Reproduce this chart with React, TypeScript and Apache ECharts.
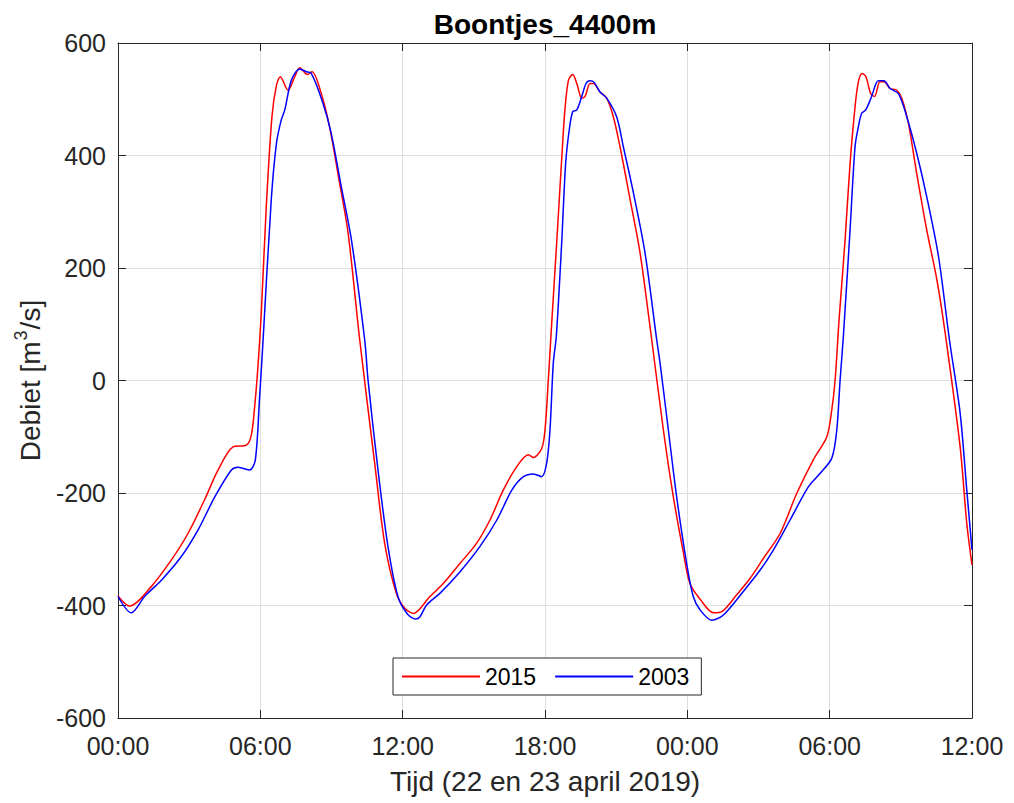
import React, { useEffect, useRef } from "react";
import * as echarts from "echarts";

// Time in hours since 22 April 2019 00:00
const t2015 = [0, 0.49, 1.41, 2.25, 2.95, 3.65, 4.22, 4.85, 5.41, 5.62, 5.76, 5.9, 6.04, 6.25, 6.49, 6.68, 6.84, 7.17, 7.45, 7.66, 7.98, 8.18, 8.57, 8.92, 9.27, 9.7, 10.19, 10.82, 11.24, 11.73, 12.09, 12.45, 13.15, 13.71, 14.42, 15.12, 15.68, 16.24, 16.81, 17.3, 17.51, 17.86, 18.0, 18.14, 18.28, 18.5, 18.71, 18.84, 18.99, 19.17, 19.34, 19.55, 19.69, 19.9, 20.04, 20.32, 20.6, 20.88, 21.16, 21.59, 22.01, 22.5, 22.99, 23.41, 23.83, 24.11, 24.54, 25.1, 25.45, 26.08, 26.64, 27.21, 27.91, 28.61, 29.31, 29.88, 30.09, 30.23, 30.4, 30.65, 30.86, 31.07, 31.21, 31.37, 31.53, 31.73, 31.89, 32.12, 32.29, 32.55, 32.83, 33.04, 33.32, 33.67, 34.09, 34.52, 34.87, 35.5, 35.78, 36];
const q2015 = [-383, -401, -366, -319, -272, -212, -159, -118, -115, -97, -47, 25, 120, 309, 469, 525, 540, 516, 540, 556, 544, 549, 510, 451, 368, 262, 72, -147, -289, -378, -405, -414, -384, -361, -325, -289, -248, -195, -153, -132, -137, -121, -88, 1, 100, 250, 398, 481, 534, 544, 528, 502, 505, 528, 528, 513, 502, 469, 416, 321, 226, 72, -88, -207, -305, -361, -389, -413, -411, -381, -352, -316, -272, -201, -141, -100, -52, 1, 110, 250, 386, 487, 531, 546, 540, 510, 505, 531, 531, 519, 516, 502, 457, 368, 268, 179, 84, -118, -254, -328];

const t2003 = [0, 0.56, 1.12, 1.83, 2.67, 3.37, 4.08, 4.78, 5.06, 5.55, 5.79, 5.97, 6.1, 6.46, 6.68, 6.88, 7.03, 7.31, 7.66, 7.94, 8.15, 8.64, 8.99, 9.41, 9.84, 10.4, 10.54, 10.96, 11.38, 11.8, 12.2, 12.55, 12.73, 13.01, 13.58, 14.42, 15.26, 15.97, 16.6, 17.09, 17.51, 17.86, 18.07, 18.21, 18.35, 18.48, 18.71, 18.87, 19.03, 19.17, 19.34, 19.55, 19.73, 19.9, 20.07, 20.32, 20.6, 21.02, 21.3, 21.73, 22.22, 22.71, 22.85, 23.2, 23.55, 23.97, 24.25, 24.54, 25.03, 25.52, 26.36, 27.07, 27.63, 28.33, 29.1, 29.6, 30.09, 30.3, 30.44, 30.58, 30.86, 31.07, 31.21, 31.35, 31.52, 31.77, 32.05, 32.29, 32.55, 32.9, 33.25, 33.67, 34.09, 34.59, 35.05, 35.5, 35.78, 36];
const q2003 = [-384, -413, -384, -355, -313, -266, -207, -159, -154, -159, -141, -29, 60, 321, 422, 463, 481, 534, 554, 549, 546, 493, 439, 345, 250, 72, 1, -159, -295, -384, -415, -424, -420, -399, -378, -340, -295, -248, -195, -171, -166, -171, -147, -88, 31, 80, 250, 386, 448, 478, 481, 505, 528, 533, 530, 513, 502, 469, 416, 333, 226, 72, 31, -88, -207, -325, -384, -408, -426, -417, -375, -337, -301, -248, -189, -165, -138, -88, 1, 80, 268, 416, 451, 475, 481, 505, 533, 533, 519, 510, 469, 404, 327, 220, 72, -58, -195, -301];

const xTickLabels = ["00:00", "06:00", "12:00", "18:00", "00:00", "06:00", "12:00"];
const seriesNames = ["2015", "2003"];

const FONT = "'Liberation Sans', Arial, Helvetica, sans-serif";
const AX = "#262626";
const GRID = "#dfdfdf";

export default function App() {
  const ref = useRef<HTMLDivElement>(null);
  useEffect(() => {
    if (!ref.current) return;
    const chart = echarts.init(ref.current, undefined, { renderer: "svg" });
    const axisBase = {
      axisLine: { show: true, onZero: false, lineStyle: { color: AX, width: 1 } },
      axisTick: { show: true, inside: true, length: 8, lineStyle: { color: AX } },
    };
    chart.setOption({
      animation: false,
      backgroundColor: "#ffffff",
      textStyle: { fontFamily: FONT },
      title: {
        text: "Boontjes_4400m",
        left: 545,
        top: 10,
        padding: 0,
        textAlign: "center",
        textStyle: { fontFamily: FONT, fontSize: 28, fontWeight: "bold", color: "#000" },
      },
      grid: { left: 118, right: 42, top: 43, bottom: 85, containLabel: false },
      legend: {
        left: 393,
        top: 658,
        orient: "horizontal",
        data: seriesNames,
        itemWidth: 78,
        itemHeight: 14,
        itemGap: 18,
        padding: [7, 12, 7, 8],
        borderColor: AX,
        borderWidth: 1,
        backgroundColor: "#ffffff",
        itemStyle: { opacity: 0 },
        textStyle: { fontFamily: FONT, fontSize: 23, color: "#000" },
      },
      xAxis: [
        {
          type: "value",
          min: 0,
          max: 36,
          interval: 6,
          position: "bottom",
          ...axisBase,
          splitLine: { show: true, lineStyle: { color: GRID, width: 1 } },
          axisLabel: {
            margin: 15,
            fontSize: 25,
            color: AX,
            fontFamily: FONT,
            formatter: (v: number) => xTickLabels[Math.round(v / 6)] ?? "",
          },
          name: "Tijd (22 en 23 april 2019)",
          nameLocation: "middle",
          nameGap: 49,
          nameTextStyle: { fontSize: 28, color: AX, fontFamily: FONT },
        },
        {
          type: "value",
          min: 0,
          max: 36,
          interval: 6,
          position: "top",
          ...axisBase,
          splitLine: { show: false },
          axisLabel: { show: false },
        },
      ],
      yAxis: [
        {
          type: "value",
          min: -600,
          max: 600,
          interval: 200,
          position: "left",
          ...axisBase,
          splitLine: { show: true, lineStyle: { color: GRID, width: 1 } },
          axisLabel: { margin: 12, fontSize: 25, color: AX, fontFamily: FONT },
          name: "{a|Debiet [m}{sup|3}{a|/s]}",
          nameLocation: "middle",
          nameGap: 70,
          nameTextStyle: {
            color: AX,
            fontFamily: FONT,
            rich: {
              a: { fontSize: 28, color: AX, fontFamily: FONT },
              sup: { fontSize: 18, color: AX, fontFamily: FONT, padding: [0, 1, 18, 1] },
            },
          },
        },
        {
          type: "value",
          min: -600,
          max: 600,
          interval: 200,
          position: "right",
          ...axisBase,
          splitLine: { show: false },
          axisLabel: { show: false },
        },
      ],
      series: [
        {
          name: seriesNames[0],
          type: "line",
          xAxisIndex: 0,
          yAxisIndex: 0,
          data: t2015.map((t, i) => [t, q2015[i]]),
          showSymbol: false,
          symbol: "none",
          smooth: 0.3,
          lineStyle: { color: "#ff0000", width: 1.5 },
          itemStyle: { color: "#ff0000" },
          z: 3,
        },
        {
          name: seriesNames[1],
          type: "line",
          xAxisIndex: 0,
          yAxisIndex: 0,
          data: t2003.map((t, i) => [t, q2003[i]]),
          showSymbol: false,
          symbol: "none",
          smooth: 0.3,
          lineStyle: { color: "#0000ff", width: 1.5 },
          itemStyle: { color: "#0000ff" },
          z: 4,
        },
      ],
    });
    return () => chart.dispose();
  }, []);
  return (
    <div
      ref={ref}
      style={{ position: "absolute", left: 0, top: 0, width: 1014, height: 803, background: "#fff" }}
    />
  );
}
